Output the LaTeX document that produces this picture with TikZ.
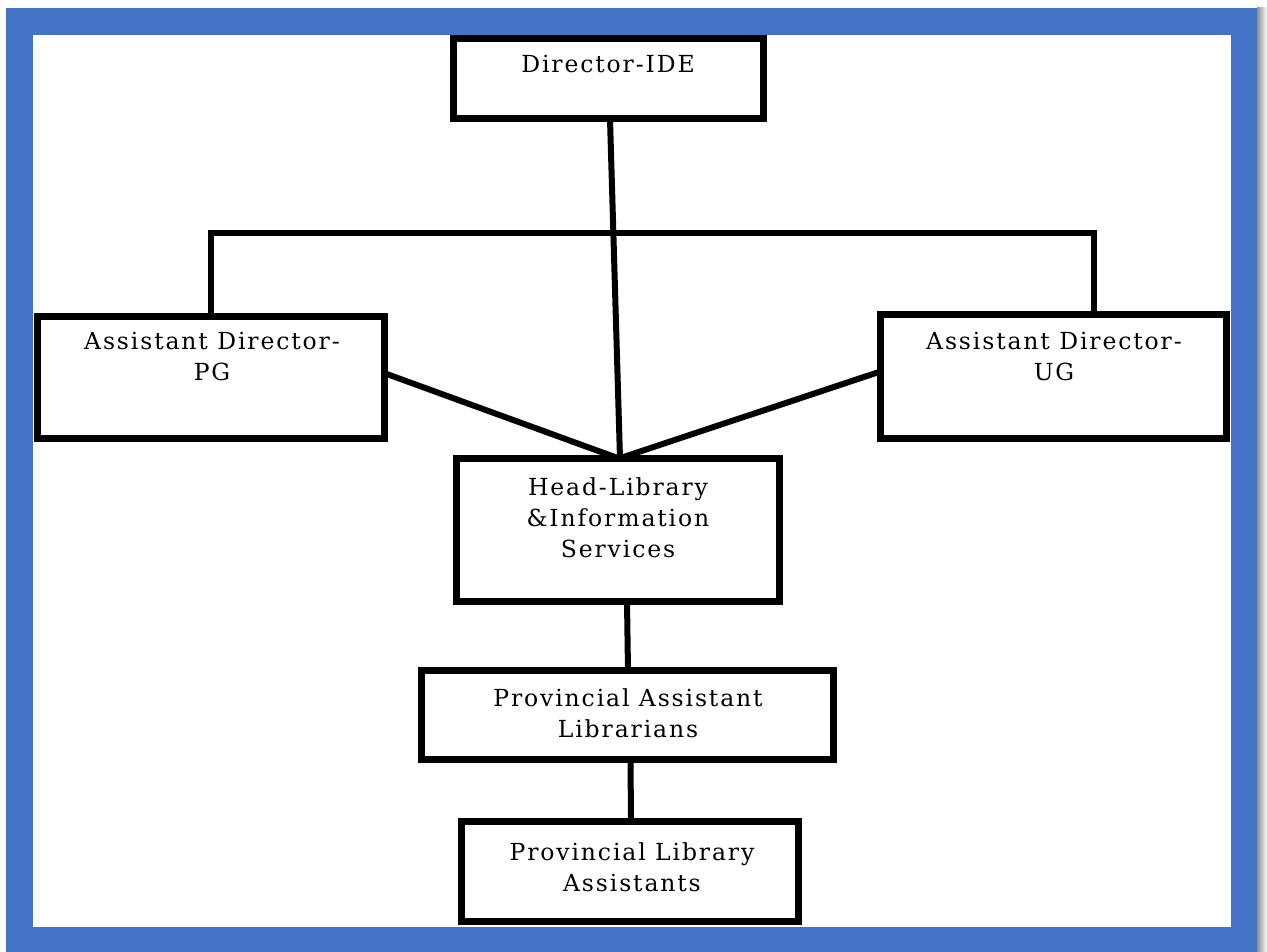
\documentclass[tikz,border=0pt]{standalone}
\usepackage{fontspec}
\setmainfont{DejaVu Serif}[LetterSpace=8]
\definecolor{frameblue}{HTML}{4472C4}
\begin{document}
\begin{tikzpicture}[x=1pt,y=-1pt,
  box/.style={draw=black, line width=7pt, fill=white, inner sep=0pt, outer sep=0pt, line join=miter},
  link/.style={draw=black, line width=6pt, line join=miter},
  lbl/.style={anchor=north, inner sep=0pt, align=center, font=\fontsize{23.5}{31}\selectfont}]
\useasboundingbox (0,0) rectangle (1267,952);
% page frame with a soft shadow on the right
\fill[white] (0,0) rectangle (1267,952);
\shade[left color=black!45, right color=white] (1257,8) rectangle (1267,952);
\fill[frameblue] (6,8) rectangle (1257,952);
\fill[white] (33,35) rectangle (1231,927);

% boxes (drawn empty first so the links can be laid under them)
\path (608.5,79) node[box, minimum width=310pt, minimum height=80pt] (dir) {};
\path (210.5,377.5) node[box, minimum width=347pt, minimum height=122pt] (pg) {};
\path (1053.5,376.5) node[box, minimum width=346pt, minimum height=124pt] (ug) {};
\path (618,530) node[box, minimum width=323pt, minimum height=143pt] (head) {};
\path (627.5,715) node[box, minimum width=412pt, minimum height=89pt] (pal) {};
\path (630,871.5) node[box, minimum width=337pt, minimum height=100pt] (pla) {};

% links
\coordinate (busL) at (211,233);
\coordinate (busR) at (1094,233);
\draw[link, line width=6.5pt] (pg.north -| busL) -- (busL) -- (busR) -- (ug.north -| busR);
\draw[link] ([xshift=1.5pt]dir.south) -- ([xshift=2pt]head.north);
\draw[link] ([yshift=4.5pt]pg.east) -- ([xshift=1pt]head.north);
\draw[link] ([yshift=5pt]ug.west) -- ([xshift=1pt]head.north);
\draw[link] ([xshift=9pt]head.south) -- ([xshift=0.5pt]pal.north);
\draw[link] ([xshift=3pt]pal.south) -- ([xshift=1pt]pla.north);

% boxes drawn again on top of the link ends
\foreach \b in {dir,pg,ug,head,pal,pla}{
  \draw[box] (\b.north west) rectangle (\b.south east);
}

% labels
\node[lbl] (tdir) at (608,55) {Director-IDE};
\node[lbl] (tpg) at (212,332) {Assistant Director-\\PG};
\node[lbl] (tug) at (1054,332) {Assistant Director-\\UG};
\node[lbl] (thead) at (618,477) {Head-Library\\\&Information\\Services};
\node[lbl] (tpal) at (628,688) {Provincial Assistant\\Librarians};
\node[lbl] (tpla) at (632,842) {Provincial Library\\Assistants};
\end{tikzpicture}
\end{document}
